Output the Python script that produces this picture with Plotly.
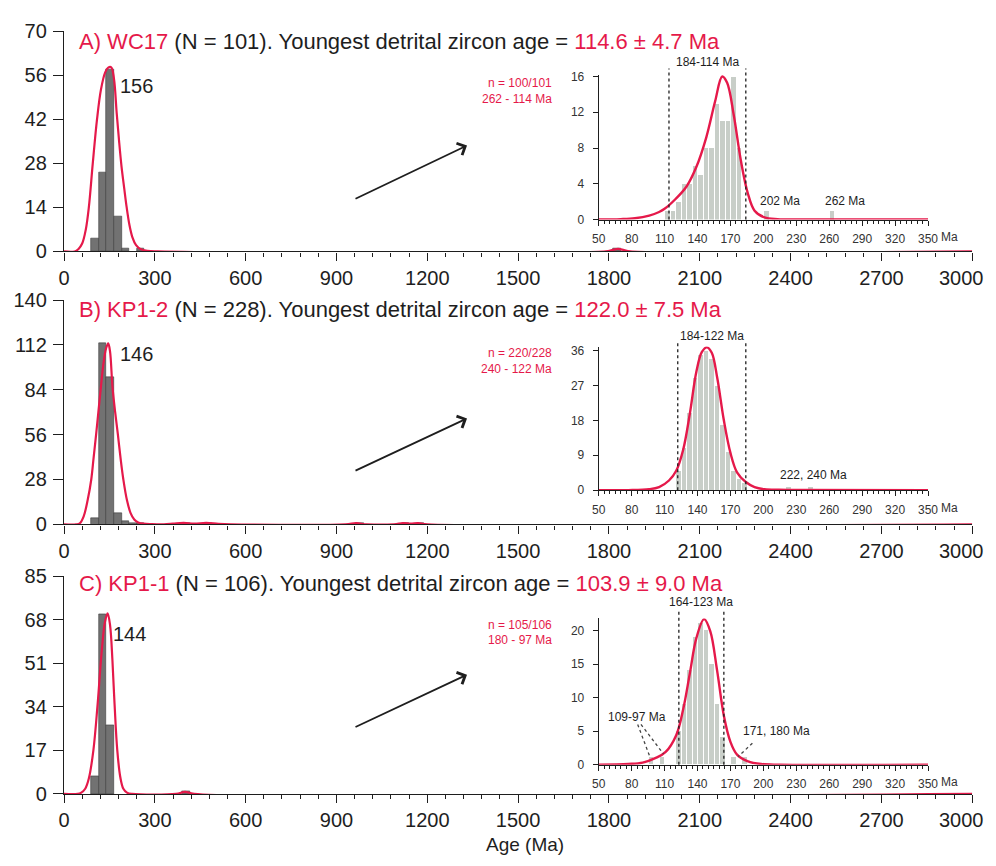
import plotly.graph_objects as go

W, H = 996, 866
RED = "#e5194a"
INK = "#1e1e1e"
BAR_DARK = "#727272"
BAR_LIGHT = "#c8cec8"
FONT = "Liberation Sans, Arial, sans-serif"

# ---------------- data ----------------
# main histograms, 25 Ma bins (left edges) and counts
main_bin_width = 25
wc17_bin_start = [90, 115, 140, 165, 190, 240, 1815]
wc17_counts = [4, 25, 58, 11, 1, 1, 1]
kp12_bin_start = [90, 115, 140, 165, 190, 215, 240, 390, 465, 965, 1115, 1165]
kp12_counts = [4, 113, 92, 7, 2, 1, 1, 1, 1, 1, 1, 1]
kp11_bin_start = [90, 115, 140, 390]
kp11_counts = [7, 70, 27, 1]

# main probability-density curves (age, scaled density)
wc17_kde_age = [0, 35, 48, 60, 72, 82, 95, 109, 122, 136, 146, 156, 165, 174, 182, 190,
                199, 207, 216, 226, 238, 252, 275, 310, 1790, 1810, 1830, 1850, 1870, 3000]
wc17_kde_val = [0, 0, 0.8, 2.5, 7, 14, 28, 42, 51.5, 57, 58.5, 58.6, 55, 44, 35, 27,
                20, 14, 8.5, 4.5, 2, 0.8, 0.2, 0, 0, 0.4, 0.8, 0.4, 0, 0]
kp12_kde_age = [0, 40, 52, 65, 78, 90, 98, 106, 114, 121, 130, 139, 146, 152, 160, 169,
                178, 187, 196, 208, 220, 232, 245, 262, 290, 330, 360, 395, 430, 470,
                510, 550, 930, 965, 1000, 1090, 1120, 1145, 1170, 1200, 3000]
kp12_kde_val = [0, 0, 0.6, 5, 15, 28, 42, 56, 71, 84, 100, 110, 113, 108, 86, 70,
                56, 41, 28, 15, 7, 3, 1.2, 0.4, 0.1, 0, 0.4, 0.9, 0.4, 0.9,
                0.3, 0, 0, 0.7, 0, 0, 0.7, 0.4, 0.7, 0, 0]
kp11_kde_age = [0, 45, 57, 70, 82, 97, 111, 124, 135, 144, 152, 160, 167, 176, 186,
                196, 208, 225, 370, 400, 430, 3000]
kp11_kde_val = [0, 0, 0.5, 2, 6, 17, 35, 55, 67, 70.5, 66, 52, 35, 17, 6.5,
                2, 0.5, 0, 0, 0.8, 0, 0]

# inset histograms, 5 Ma bins (left edges) and counts
inset_bin_width = 5
wc17_in_start = [110, 115, 120, 125, 130, 135, 140, 145, 150, 155, 160, 165, 170, 175, 200, 260]
wc17_in_counts = [1, 1, 2, 4, 4, 6, 5, 8, 8, 13, 11, 11, 16, 8, 1, 1]
kp12_in_start = [120, 125, 130, 135, 140, 145, 150, 155, 160, 165, 170, 175, 180, 220, 240]
kp12_in_counts = [5, 11, 20, 29, 35, 36, 34, 27, 17, 10, 5, 3, 2, 1, 1]
kp11_in_start = [95, 105, 120, 125, 130, 135, 140, 145, 150, 155, 160, 170, 180]
kp11_in_counts = [1, 1, 5, 9, 14, 19, 21, 20, 15, 9, 4, 1, 1]

# inset density curves
wc17_in_age = [50, 70, 83, 96, 105, 110, 120, 130, 139, 148, 156, 162.5, 167, 173, 179.5,
               185.7, 192, 201, 213, 230, 350]
wc17_in_val = [0, 0.05, 0.15, 0.45, 0.85, 1.2, 2.3, 3.7, 5.9, 9.2, 13.2, 16, 15.3, 11.7, 6.6,
               3, 1, 0.25, 0.05, 0, 0]
kp12_in_age = [50, 77, 96, 105, 114, 120.6, 127, 133, 139, 144, 148.5, 153, 158, 164, 170,
               176, 184, 192, 201, 214, 230, 350]
kp12_in_val = [0, 0.02, 0.25, 0.8, 2.5, 5, 10.5, 19.7, 30.6, 35.6, 36.8, 35.4, 28.9, 18, 9.6,
               4.6, 2.1, 0.8, 0.25, 0.1, 0.05, 0]
kp11_in_age = [50, 77, 90, 102, 111, 120.6, 127, 133, 139, 146, 151.6, 157.8, 164, 170, 176,
               186, 198, 215, 350]
kp11_in_val = [0, 0.1, 0.3, 1, 1.9, 4.4, 8.3, 13.6, 18.9, 21.7, 19.9, 14.1, 7.3, 3.4, 1.5,
               0.5, 0.1, 0, 0]

# text
panel_names = ["A) WC17", "B) KP1-2", "C) KP1-1"]
panel_n = [101, 228, 106]
youngest_age = ["114.6 ± 4.7 Ma", "122.0 ± 7.5 Ma", "103.9 ± 9.0 Ma"]
peak_labels = ["156", "146", "144"]
inset_counts_text = ["n = 100/101", "n = 220/228", "n = 105/106"]
inset_range_text = ["262 - 114 Ma", "240 - 122 Ma", "180 - 97 Ma"]
main_y_ticks = [[0, 14, 28, 42, 56, 70], [0, 28, 56, 84, 112, 140], [0, 17, 34, 51, 68, 85]]
inset_y_ticks = [[0, 4, 8, 12, 16], [0, 9, 18, 27, 36], [0, 5, 10, 15, 20]]
main_age_ticks = [0, 300, 600, 900, 1200, 1500, 1800, 2100, 2400, 2700, 3000]
inset_age_ticks = [50, 80, 110, 140, 170, 200, 230, 260, 290, 320, 350]
window_bounds = [(114, 184), (122, 184), (123, 164)]


# ---------------- layout helpers (page pixels -> paper fractions) ----------------
def px(x):
    return x / W


def py(y):
    return (H - y) / H


main_x_dom = [px(58), px(982)]
main_y_dom = [[py(246.7), py(21)], [py(526.7), py(296.7)], [py(803.3), py(580)]]
main_y_max = [70, 140, 85]
inset_x_dom = [px(602), px(937)]
inset_y_dom = [[py(214), py(65.4)], [py(491.7), py(344.3)], [py(773.3), py(623.3)]]
inset_y_max = [16.2, 37, 21.8]
title_y = [31, 306, 587]
peak_label_xy = [(132, 77), (132, 352), (125, 639)]
red_text_y = [(74, 90), (351, 367), (630, 645)]
arrow_xy = [((355, 192), (468, 138)), ((355, 471), (468, 418)), ((355, 734), (468, 681))]
window_label_y = [17.6, 39.6, 24.3]
window_line_top = [16.9, 38.1, 22.9]


def inset_paper_y(i, v):
    d = inset_y_dom[i]
    return d[0] + v / inset_y_max[i] * (d[1] - d[0])


def main_paper_y0(i):
    return main_y_dom[i][0]


fig = go.Figure()

main_sets = [
    (wc17_bin_start, wc17_counts, wc17_kde_age, wc17_kde_val),
    (kp12_bin_start, kp12_counts, kp12_kde_age, kp12_kde_val),
    (kp11_bin_start, kp11_counts, kp11_kde_age, kp11_kde_val),
]
inset_sets = [
    (wc17_in_start, wc17_in_counts, wc17_in_age, wc17_in_val),
    (kp12_in_start, kp12_in_counts, kp12_in_age, kp12_in_val),
    (kp11_in_start, kp11_in_counts, kp11_in_age, kp11_in_val),
]

for i, (starts, counts, kx, ky) in enumerate(main_sets):
    xa = "x" if i == 0 else f"x{i + 1}"
    ya = "y" if i == 0 else f"y{i + 1}"
    fig.add_trace(go.Bar(
        x=[s + main_bin_width / 2 for s in starts], y=counts, width=main_bin_width,
        marker=dict(color=BAR_DARK, line=dict(color="#3c3c3c", width=0.6)),
        xaxis=xa, yaxis=ya, showlegend=False, hoverinfo="skip"))
    fig.add_trace(go.Scatter(
        x=kx, y=ky, mode="lines", line=dict(color=RED, width=2.2, shape="spline", smoothing=1),
        xaxis=xa, yaxis=ya, showlegend=False, hoverinfo="skip"))

for i, (starts, counts, kx, ky) in enumerate(inset_sets):
    xa = f"x{i + 4}"
    ya = f"y{i + 4}"
    fig.add_trace(go.Bar(
        x=[s + inset_bin_width / 2 for s in starts], y=counts, width=inset_bin_width * 0.82,
        marker=dict(color=BAR_LIGHT, line=dict(width=0)),
        xaxis=xa, yaxis=ya, showlegend=False, hoverinfo="skip"))
    fig.add_trace(go.Scatter(
        x=kx, y=ky, mode="lines", line=dict(color=RED, width=2.4, shape="spline", smoothing=1),
        xaxis=xa, yaxis=ya, showlegend=False, hoverinfo="skip"))

layout = dict(
    width=W, height=H, margin=dict(l=0, r=0, t=0, b=0), autosize=False,
    paper_bgcolor="white", plot_bgcolor="rgba(0,0,0,0)",
    font=dict(family=FONT, color=INK), bargap=0, showlegend=False,
)

axis_common = dict(showline=True, linecolor=INK, linewidth=1.4, showgrid=False, zeroline=False,
                   ticks="outside", tickcolor=INK, tickwidth=1.3, fixedrange=True)

# the last age label sits against the right edge, so it is written as a note instead
main_age_text = [str(t) for t in main_age_ticks[:-1]] + [""]

for i in range(3):
    sx = "" if i == 0 else str(i + 1)
    layout["xaxis" + sx] = dict(
        axis_common, domain=main_x_dom, range=[0, 3000], anchor="y" + sx,
        tickvals=main_age_ticks, ticktext=main_age_text, ticklen=8,
        tickfont=dict(size=20, color=INK),
        minor=dict(dtick=60, tick0=0, ticklen=4, ticks="outside", tickcolor=INK, tickwidth=1.1),
    )
    layout["yaxis" + sx] = dict(
        axis_common, domain=main_y_dom[i], range=[0, main_y_max[i]], anchor="x" + sx,
        tickvals=main_y_ticks[i], ticklen=10, tickfont=dict(size=20, color=INK),
        ticklabelstandoff=2,
    )
    k = str(i + 4)
    layout["xaxis" + k] = dict(
        axis_common, domain=inset_x_dom, range=[50, 350], anchor="y" + k,
        tickvals=inset_age_ticks, ticklen=5, linewidth=1.1, tickwidth=1,
        tickfont=dict(size=12, color="#333333"), ticklabelstandoff=3,
        minor=dict(dtick=5, tick0=50, ticklen=3, ticks="outside", tickcolor=INK, tickwidth=0.9),
    )
    layout["yaxis" + k] = dict(
        axis_common, domain=inset_y_dom[i], range=[0, inset_y_max[i]], anchor="x" + k,
        tickvals=inset_y_ticks[i], ticklen=5, linewidth=1.1, tickwidth=1,
        tickfont=dict(size=12, color="#333333"), ticklabelstandoff=6,
    )


def text_note(x, y, text, size, color=INK, xanchor="center", xref="paper", yref="paper"):
    return dict(xref=xref, yref=yref, x=x, y=y, text=text, showarrow=False,
                xanchor=xanchor, yanchor="middle", font=dict(size=size, color=color))


annotations = []
shapes = []
for i in range(3):
    k = str(i + 4)
    # panel title with coloured sample name and age
    annotations.append(text_note(
        px(71), py(title_y[i]),
        (f"<span style='color:{RED}'>{panel_names[i]}</span> (N = {panel_n[i]}). "
         f"Youngest detrital zircon age = <span style='color:{RED}'>{youngest_age[i]}</span>"),
        22, xanchor="left"))
    # last main age label, flush with the right edge
    annotations.append(text_note(1.0, main_paper_y0(i) - 27 / H, str(main_age_ticks[-1]), 20,
                                 xanchor="right"))
    # main peak label
    lx, ly = peak_label_xy[i]
    annotations.append(text_note(px(lx), py(ly), peak_labels[i], 20))
    # red n / range text
    annotations.append(text_note(px(556), py(red_text_y[i][0]), inset_counts_text[i], 12, RED, "right"))
    annotations.append(text_note(px(556), py(red_text_y[i][1]), inset_range_text[i], 12, RED, "right"))
    # arrow pointing to the inset
    (tx, ty), (hx, hy) = arrow_xy[i]
    annotations.append(dict(xref="paper", yref="paper", x=px(hx), y=py(hy), ax=tx - hx, ay=ty - hy,
                            axref="pixel", ayref="pixel", text="", showarrow=True, arrowhead=4,
                            arrowsize=1.4, arrowwidth=1.8, arrowcolor=INK, standoff=0))
    # "Ma" unit after last inset tick label
    annotations.append(text_note(px(948), inset_paper_y(i, 0) - 18 / H, "Ma", 12, "#333333", "left"))
    # dotted window lines and label
    lo, hi = window_bounds[i]
    for b in (lo, hi):
        shapes.append(dict(type="line", xref="x" + k, yref="paper", x0=b, x1=b,
                           y0=inset_paper_y(i, 0), y1=inset_paper_y(i, window_line_top[i]),
                           line=dict(color=INK, width=1.3, dash="dot")))
    annotations.append(text_note((lo + hi) / 2, inset_paper_y(i, window_label_y[i]),
                                 f"{hi}-{lo} Ma", 12, xref="x" + k))

# outlier labels inside the insets
annotations += [
    text_note(215, 2.1, "202 Ma", 12, xref="x4", yref="y4"),
    text_note(274, 2.1, "262 Ma", 12, xref="x4", yref="y4"),
    text_note(246, 3.8, "222, 240 Ma", 12, xref="x5", yref="y5"),
    text_note(85, 7.1, "109-97 Ma", 12, xref="x6", yref="y6"),
    text_note(212, 5.0, "171, 180 Ma", 12, xref="x6", yref="y6"),
]
leaders = [((85.5, 6.0), (97, 1.0)), ((88.5, 6.0), (109, 1.6)), ((190, 3.2), (177, 1.2))]
for (x0, y0), (x1, y1) in leaders:
    shapes.append(dict(type="line", xref="x6", yref="paper", x0=x0, x1=x1,
                       y0=inset_paper_y(2, y0), y1=inset_paper_y(2, y1),
                       line=dict(color="#444444", width=1.3, dash="dot")))

# shared x axis title
annotations.append(text_note(px(527), py(855), "Age (Ma)", 19))

layout["annotations"] = annotations
layout["shapes"] = shapes
fig.update_layout(**layout)
# the figure fills the whole window: no body margin, no scrollbars
fig.write_html("out.html",
               post_script="document.body.style.margin='0';document.body.style.overflow='hidden';")
